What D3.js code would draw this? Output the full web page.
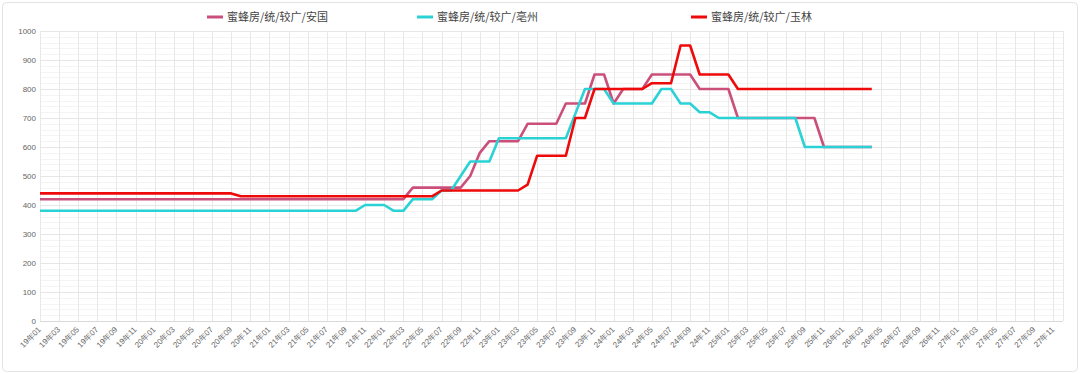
<!DOCTYPE html>
<html>
<head>
<meta charset="utf-8">
<script src="https://cdn.jsdelivr.net/npm/d3@7"></script>
<style>
  body { margin: 0; background: #fff; }
  svg { display: block; font-family: "Noto Sans CJK SC", "Noto Sans", sans-serif; }
</style>
</head>
<body>
<div id="chart"></div>
<script>
// monthly categories, 19年01 .. 27年12
const months = [
  '19年01', '19年02', '19年03', '19年04', '19年05', '19年06', '19年07', '19年08', '19年09', '19年10', '19年11', '19年12',
  '20年01', '20年02', '20年03', '20年04', '20年05', '20年06', '20年07', '20年08', '20年09', '20年10', '20年11', '20年12',
  '21年01', '21年02', '21年03', '21年04', '21年05', '21年06', '21年07', '21年08', '21年09', '21年10', '21年11', '21年12',
  '22年01', '22年02', '22年03', '22年04', '22年05', '22年06', '22年07', '22年08', '22年09', '22年10', '22年11', '22年12',
  '23年01', '23年02', '23年03', '23年04', '23年05', '23年06', '23年07', '23年08', '23年09', '23年10', '23年11', '23年12',
  '24年01', '24年02', '24年03', '24年04', '24年05', '24年06', '24年07', '24年08', '24年09', '24年10', '24年11', '24年12',
  '25年01', '25年02', '25年03', '25年04', '25年05', '25年06', '25年07', '25年08', '25年09', '25年10', '25年11', '25年12',
  '26年01', '26年02', '26年03', '26年04', '26年05', '26年06', '26年07', '26年08', '26年09', '26年10', '26年11', '26年12',
  '27年01', '27年02', '27年03', '27年04', '27年05', '27年06', '27年07', '27年08', '27年09', '27年10', '27年11', '27年12'
]

const seriesNames = ['蜜蜂房/统/较广/安国', '蜜蜂房/统/较广/亳州', '蜜蜂房/统/较广/玉林']

const anguo = [
  420, 420, 420, 420, 420, 420, 420, 420, 420, 420, 420, 420,
  420, 420, 420, 420, 420, 420, 420, 420, 420, 420, 420, 420,
  420, 420, 420, 420, 420, 420, 420, 420, 420, 420, 420, 420,
  420, 420, 420, 460, 460, 460, 460, 460, 460, 500, 580, 620,
  620, 620, 620, 680, 680, 680, 680, 750, 750, 750, 850, 850,
  750, 800, 800, 800, 850, 850, 850, 850, 850, 800, 800, 800,
  800, 700, 700, 700, 700, 700, 700, 700, 700, 700, 600, 600,
  600, 600, 600, 600
]

const bozhou = [
  380, 380, 380, 380, 380, 380, 380, 380, 380, 380, 380, 380,
  380, 380, 380, 380, 380, 380, 380, 380, 380, 380, 380, 380,
  380, 380, 380, 380, 380, 380, 380, 380, 380, 380, 400, 400,
  400, 380, 380, 420, 420, 420, 450, 450, 500, 550, 550, 550,
  630, 630, 630, 630, 630, 630, 630, 630, 715, 800, 800, 800,
  750, 750, 750, 750, 750, 800, 800, 750, 750, 720, 720, 700,
  700, 700, 700, 700, 700, 700, 700, 700, 600, 600, 600, 600,
  600, 600, 600, 600
]

const yulin = [
  440, 440, 440, 440, 440, 440, 440, 440, 440, 440, 440, 440,
  440, 440, 440, 440, 440, 440, 440, 440, 440, 430, 430, 430,
  430, 430, 430, 430, 430, 430, 430, 430, 430, 430, 430, 430,
  430, 430, 430, 430, 430, 430, 450, 450, 450, 450, 450, 450,
  450, 450, 450, 470, 570, 570, 570, 570, 700, 700, 800, 800,
  800, 800, 800, 800, 820, 820, 820, 950, 950, 850, 850, 850,
  850, 800, 800, 800, 800, 800, 800, 800, 800, 800, 800, 800,
  800, 800, 800, 800
]

const yTicks = [0, 100, 200, 300, 400, 500, 600, 700, 800, 900, 1000]
const colors = ['#cb4f7b', '#2ad2d6', '#ee0a0a']
const allSeries = [anguo, bozhou, yulin]

const width = 1080
const height = 374
const margin = { top: 31, right: 17, bottom: 53, left: 40 }

const svg = d3.select('#chart').append('svg')
  .attr('width', width)
  .attr('height', height)

svg.append('rect')
  .attr('x', 2.5).attr('y', 2.5)
  .attr('width', width - 5).attr('height', height - 5)
  .attr('rx', 4)
  .attr('fill', '#fff')
  .attr('stroke', '#e3e3e3')

const x = d3.scalePoint()
  .domain(months)
  .range([margin.left, width - margin.right])
  .padding(0)

const y = d3.scaleLinear()
  .domain([0, 1000])
  .range([height - margin.bottom, margin.top])

// grid: minor horizontal, major horizontal, vertical every other month
const grid = svg.append('g')
grid.selectAll('line.minor')
  .data(d3.range(0, 1000, 20).filter(v => v % 100 !== 0))
  .enter().append('line')
  .attr('x1', margin.left).attr('x2', width - margin.right)
  .attr('y1', d => Math.round(y(d)) + 0.5).attr('y2', d => Math.round(y(d)) + 0.5)
  .attr('stroke', '#f4f4f4')

const labelMonths = months.filter((m, i) => i % 2 === 0)

grid.selectAll('line.v')
  .data(labelMonths.concat([months[months.length - 1]]))
  .enter().append('line')
  .attr('x1', d => Math.round(x(d)) + 0.5).attr('x2', d => Math.round(x(d)) + 0.5)
  .attr('y1', margin.top).attr('y2', height - margin.bottom)
  .attr('stroke', '#e8e8e8')

grid.selectAll('line.major')
  .data(yTicks)
  .enter().append('line')
  .attr('x1', margin.left).attr('x2', width - margin.right)
  .attr('y1', d => Math.round(y(d)) + 0.5).attr('y2', d => Math.round(y(d)) + 0.5)
  .attr('stroke', d => d === 0 ? '#d9d9d9' : '#e6e6e6')

// y axis labels
const yAxis = svg.append('g')
  .attr('transform', `translate(${margin.left - 4},0)`)
  .call(d3.axisLeft(y).tickValues(yTicks).tickFormat(d3.format('d')).tickSize(0).tickPadding(0))
yAxis.select('.domain').remove()
yAxis.selectAll('text')
  .attr('fill', '#666')
  .attr('font-size', 8)

// x axis labels, rotated
const xAxis = svg.append('g')
  .attr('transform', `translate(0,${height - margin.bottom})`)
  .call(d3.axisBottom(x).tickValues(labelMonths).tickSize(0).tickPadding(0))
xAxis.select('.domain').remove()
xAxis.selectAll('text')
  .attr('fill', '#666')
  .attr('font-size', 8)
  .attr('text-anchor', 'end')
  .attr('y', 0)
  .attr('dy', '0.35em')
  .attr('transform', 'translate(-1,7) rotate(-45)')

const line = d3.line()
  .x((d, i) => x(months[i]))
  .y(d => y(d))

svg.append('g')
  .selectAll('path')
  .data(allSeries)
  .enter().append('path')
  .attr('d', d => line(d))
  .attr('fill', 'none')
  .attr('stroke', (d, i) => colors[i])
  .attr('stroke-width', 2.6)
  .attr('stroke-linejoin', 'round')

// legend
const legendX = [207, 417, 691]
const legend = svg.append('g')
  .selectAll('g')
  .data(seriesNames)
  .enter().append('g')
  .attr('transform', (d, i) => `translate(${legendX[i]},17)`)
legend.append('line')
  .attr('x1', 0).attr('x2', 16)
  .attr('stroke', (d, i) => colors[i])
  .attr('stroke-width', 3)
legend.append('text')
  .attr('x', 20)
  .attr('dy', '0.35em')
  .attr('font-size', 11)
  .attr('fill', '#444')
  .text(d => d)
</script>
</body>
</html>
